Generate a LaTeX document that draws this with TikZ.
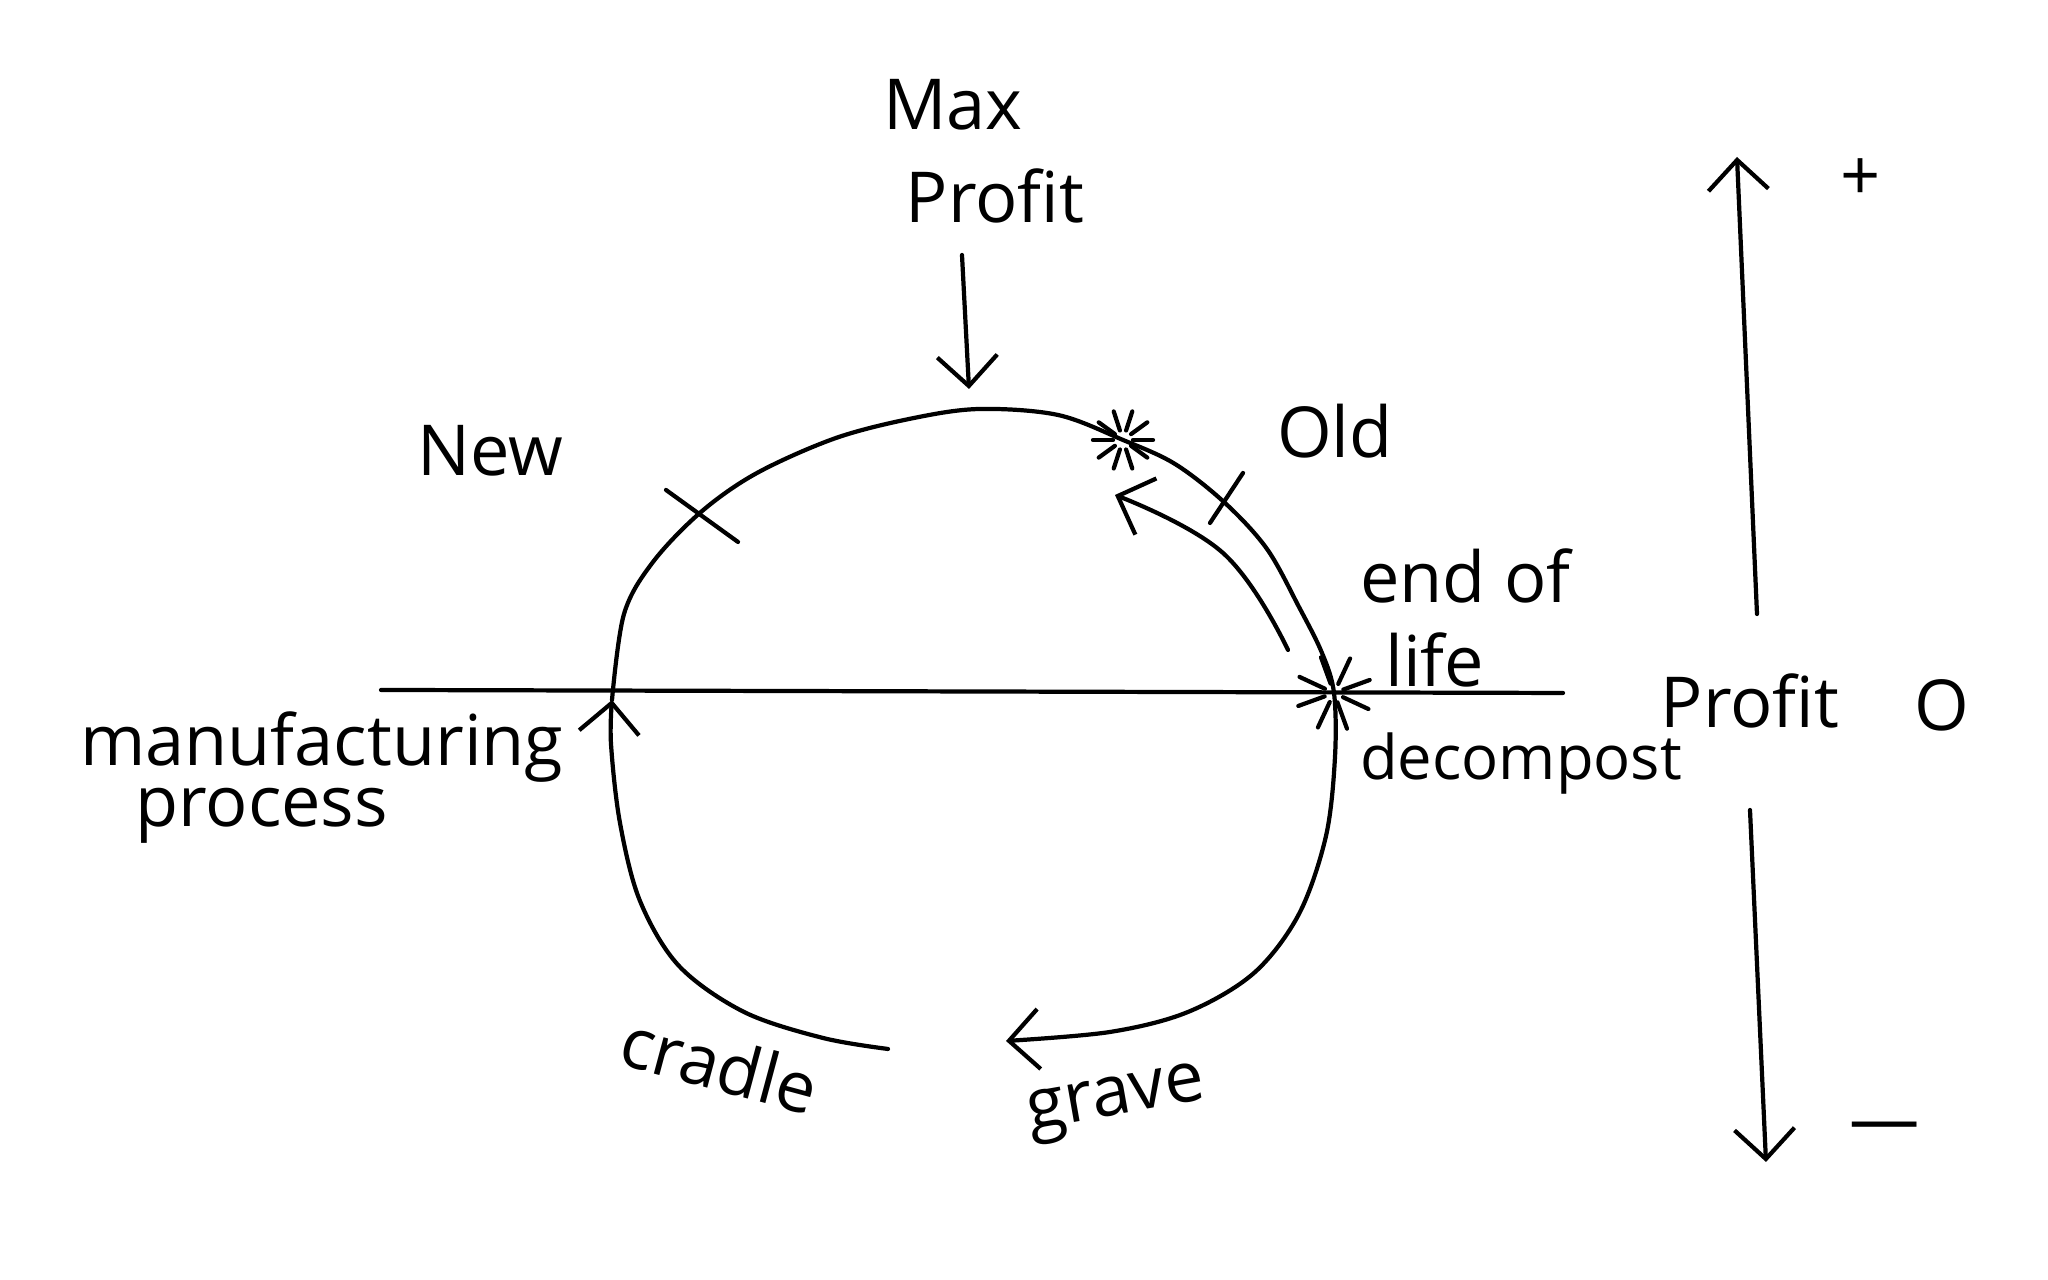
\documentclass[tikz,border=0pt]{standalone}
\usepackage{fontspec}
\setmainfont{Open Sans}
\usepackage{tikz}
\usetikzlibrary{arrows.meta,calc}

\tikzset{
    sketch/.style={line width=1.2pt, line cap=round, line join=round},
    barb/.style={-{Straight Barb[length=3mm,width=6mm,line width=1.2pt]}},
    label/.style={font=\fontsize{20}{24}\selectfont, inner sep=1pt}
}

\begin{document}
\begin{tikzpicture}[>=Stealth]

    %% Background
    \useasboundingbox (0,0) rectangle (20.48,12.8);

    % Axis line
    \coordinate (hl) at (3.81,5.90);
    \coordinate (hr) at (15.63,5.87);
    \draw[sketch] (hl) -- (hr);

    % Points on the loop
    \coordinate (cradleend) at (8.88,2.31);
    \coordinate (mfg) at (6.12,5.80);
    \coordinate (top) at (9.80,8.71);
    \coordinate (s1) at (11.23,8.40);
    \coordinate (s2) at (13.34,5.87);
    \coordinate (graveend) at (10.06,2.39);

    % Loop, cradle to manufacturing
    \draw[sketch, barb] plot[smooth, tension=0.55] coordinates
    {(cradleend) (8.23,2.42) (7.44,2.68) (6.79,3.14) (6.40,3.79)
     (6.20,4.57) (6.11,5.36) (mfg)};

    % Loop, manufacturing to grave
    \draw[sketch, barb] plot[smooth, tension=0.55] coordinates
    {(mfg) (6.24,6.66) (6.53,7.18) (7.01,7.68) (7.57,8.07) (8.36,8.42)
     (9.14,8.62) (top) (10.58,8.65) (s1) (11.75,8.16) (12.25,7.77)
     (12.67,7.31) (12.99,6.73) (13.22,6.27) (s2) (13.35,5.23)
     (13.26,4.44) (12.99,3.66) (12.54,3.07) (11.88,2.68) (11.10,2.48)
     (graveend)};

    % Ticks
    \draw[sketch] (6.66,7.90) to (7.38,7.38);
    \draw[sketch] (12.43,8.07) to (12.10,7.57);

    % Stars
    \foreach \a in {0,36,...,324}
    {
    \draw[sketch] ([shift={(\a:0.1)}]s1) to ([shift={(\a:0.3)}]s1);
    }
    \foreach \a in {20,65,...,335}
    {
    \draw[sketch] ([shift={(\a:0.1)}]s2) to ([shift={(\a:0.38)}]s2);
    }

    % Back to old
    \coordinate (eol) at (12.88,6.30);
    \coordinate (old) at (11.15,7.85);
    \draw[sketch, barb] plot[smooth, tension=0.7] coordinates
    {(eol) (12.23,7.27) (old)};

    % Labels
    \node[label] (max) at (9.53,11.75) {Max};
    \node[label] (maxp) at (9.95,10.84) {Profit};
    \draw[sketch, barb] (9.62,10.25) to (9.69,8.91);

    \node[label] (new) at (4.90,8.29) {New};
    \node[label] (oldl) at (13.35,8.49) {Old};
    \node[label, anchor=west, align=left] (endl) at (13.56,6.62) {end of\\\hspace{0.25cm}life};
    \node[label, anchor=west, font=\fontsize{17.5}{21}\selectfont] (decomp) at (13.56,5.16) {decompost};
    \node[label, anchor=west] (manuf) at (0.76,5.33) {manufacturing};
    \node[label, anchor=west] (proc) at (1.31,4.64) {process};
    \node[label, rotate=-15] (cradle) at (7.20,2.16) {cradle};
    \node[label, rotate=10] (grave) at (11.17,1.76) {grave};

    %Profit axis
    \coordinate (upb) at (17.57,6.66);
    \coordinate (upt) at (17.37,11.23);
    \coordinate (dnt) at (17.50,4.70);
    \coordinate (dnb) at (17.66,1.18);
    \draw[sketch, barb] (upb) to (upt);
    \draw[sketch, barb] (dnt) to (dnb);

    \node[label] (plus) at (18.61,11.00) {+};
    \node[label] (profit) at (17.50,5.79) {Profit};
    \node[label] (zero) at (19.42,5.75) {O};
    \node[label] (minus) at (18.85,1.47) {\textemdash};

\end{tikzpicture}
\end{document}
